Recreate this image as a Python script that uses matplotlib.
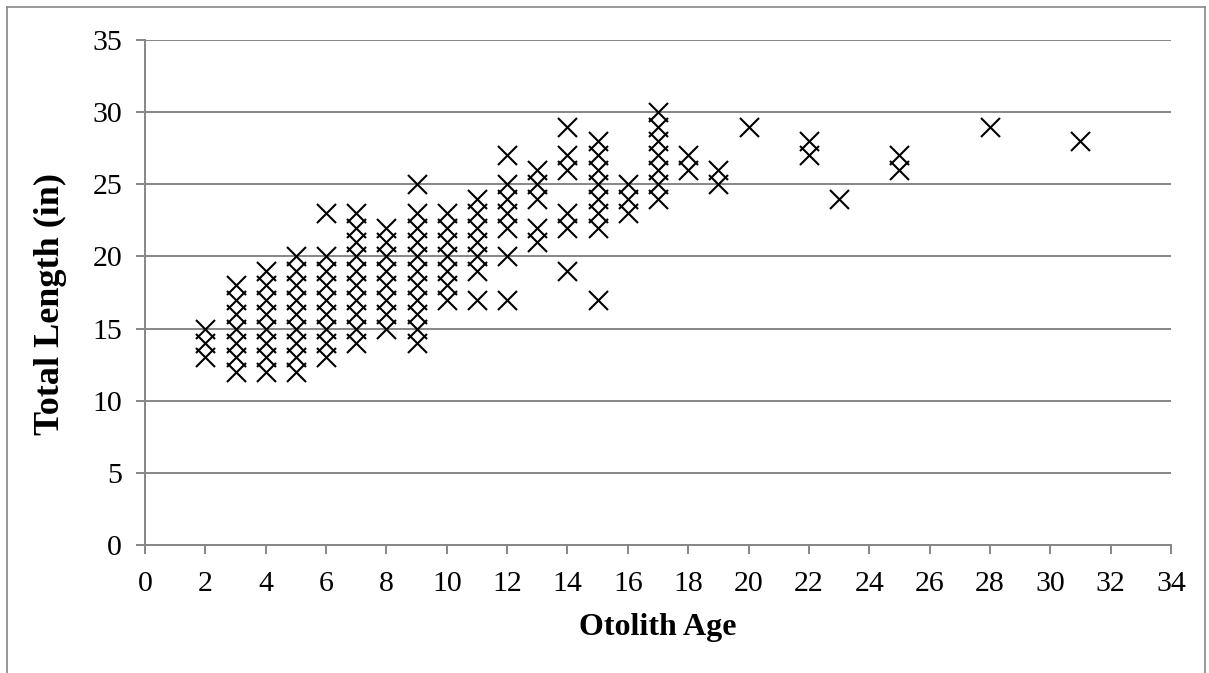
import matplotlib
matplotlib.use("Agg")
import matplotlib.pyplot as plt
from matplotlib.lines import Line2D

# Data: otolith age (years) and total length (in)
age_2 = [13, 14, 15]
age_3 = [12, 13, 14, 15, 16, 17, 18]
age_4 = [12, 13, 14, 15, 16, 17, 18, 19]
age_5 = [12, 13, 14, 15, 16, 17, 18, 19, 20]
age_6 = [13, 14, 15, 16, 17, 18, 19, 20, 23]
age_7 = [14, 15, 16, 17, 18, 19, 20, 21, 22, 23]
age_8 = [15, 16, 17, 18, 19, 20, 21, 22]
age_9 = [14, 15, 16, 17, 18, 19, 20, 21, 22, 23, 25]
age_10 = [17, 18, 19, 20, 21, 22, 23]
age_11 = [17, 19, 20, 21, 22, 23, 24]
age_12 = [17, 20, 22, 23, 24, 25, 27]
age_13 = [21, 22, 24, 25, 26]
age_14 = [19, 22, 23, 26, 27, 29]
age_15 = [17, 22, 23, 24, 25, 26, 27, 28]
age_16 = [23, 24, 25]
age_17 = [24, 25, 26, 27, 28, 29, 30]
age_18 = [26, 27]
age_19 = [25, 26]
age_20 = [29]
age_22 = [27, 28]
age_23 = [24]
age_25 = [26, 27]
age_28 = [29]
age_31 = [28]

lengths_by_age = {
    2: age_2, 3: age_3, 4: age_4, 5: age_5, 6: age_6, 7: age_7, 8: age_8,
    9: age_9, 10: age_10, 11: age_11, 12: age_12, 13: age_13, 14: age_14,
    15: age_15, 16: age_16, 17: age_17, 18: age_18, 19: age_19, 20: age_20,
    22: age_22, 23: age_23, 25: age_25, 28: age_28, 31: age_31,
}

x_ticks = [0, 2, 4, 6, 8, 10, 12, 14, 16, 18, 20, 22, 24, 26, 28, 30, 32, 34]
y_ticks = [0, 5, 10, 15, 20, 25, 30, 35]

ages = []
lengths = []
for a, ls in lengths_by_age.items():
    for l in ls:
        ages.append(a)
        lengths.append(l)

plt.rcParams['font.family'] = ['Liberation Serif', 'DejaVu Serif']

W, H = 1209, 673
fig = plt.figure(figsize=(W / 100, H / 100), dpi=100)
ax = fig.add_axes([145 / W, 1 - 545 / H, (1171 - 145) / W, (545 - 40) / H])

grey = '#868686'
ax.scatter(ages, lengths, marker='x', s=13.7 ** 2, c='black', linewidths=1.5, zorder=3)

ax.set_xlim(0, 34)
ax.set_ylim(0, 35)
ax.set_xticks(x_ticks)
ax.set_yticks(y_ticks)
ax.yaxis.grid(True, color=grey, linewidth=1.4)
ax.set_axisbelow(True)
for s in ['top', 'right']:
    ax.spines[s].set_visible(False)
for s in ['left', 'bottom']:
    ax.spines[s].set_color(grey)
    ax.spines[s].set_linewidth(1.4)
ax.tick_params(axis='both', colors=grey, length=6.5, width=1.4, labelcolor='black',
               labelsize=21.5)
ax.tick_params(axis='x', pad=12)
ax.tick_params(axis='y', pad=10)

ax.set_xlabel('Otolith Age', fontsize=23, fontweight='bold', labelpad=12)
ax.set_ylabel('Total Length (in)', fontsize=26, fontweight='bold')
ax.yaxis.set_label_coords(-0.076, 0.478)

# outer chart border
for xs, ys in [([7 / W, 7 / W], [0, 1 - 7 / H]),
               ([7 / W, 1205 / W], [1 - 7 / H, 1 - 7 / H]),
               ([1205 / W, 1205 / W], [0, 1 - 7 / H])]:
    fig.add_artist(Line2D(xs, ys, color=grey, linewidth=1.2, transform=fig.transFigure))

fig.savefig('out.png', dpi=100)
